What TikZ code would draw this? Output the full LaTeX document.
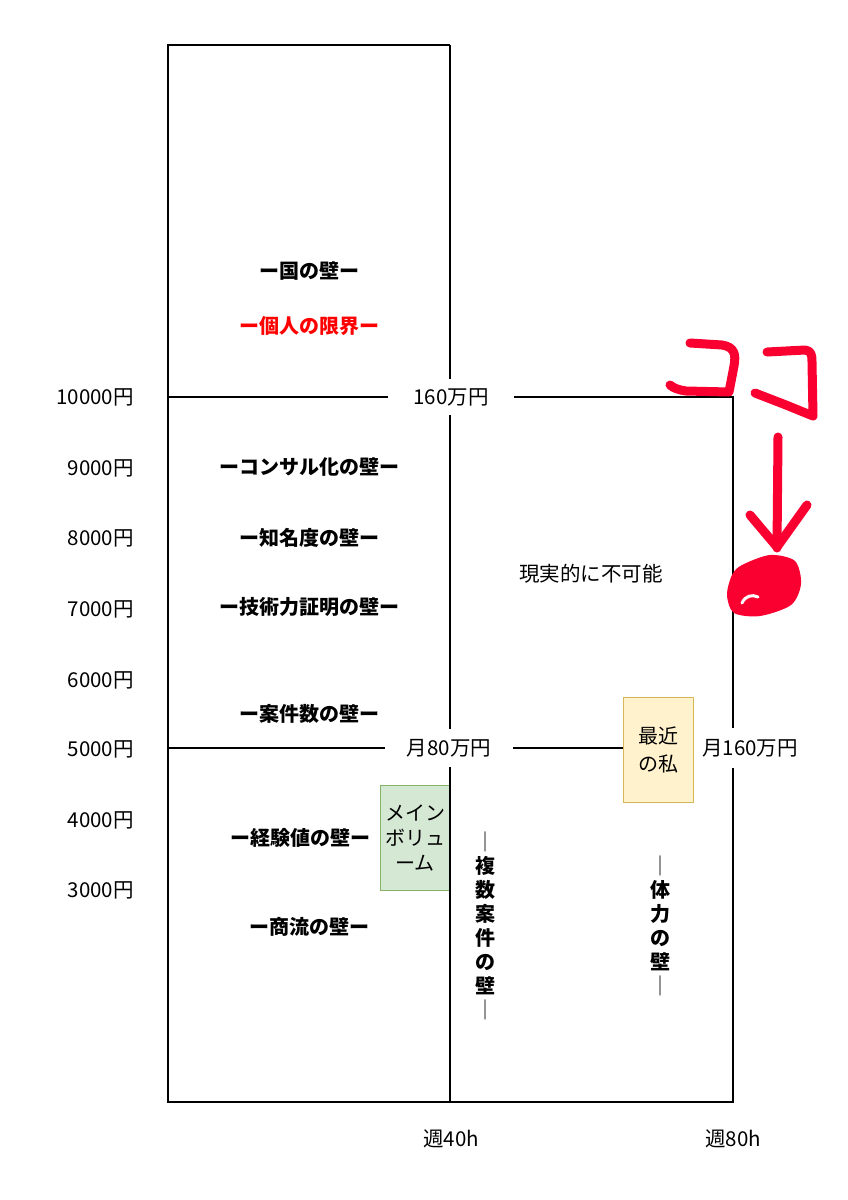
\documentclass[tikz,border=0pt]{standalone}
\usepackage{fontspec}
\setmainfont{Noto Sans CJK JP}
\usepackage{tikz}
\usetikzlibrary{positioning, calc}
\definecolor{mydark}{RGB}{0,0,0}
\definecolor{myred}{RGB}{255,0,0}
\definecolor{inkred}{RGB}{250,0,48}
\definecolor{mygreen}{RGB}{130,179,102}
\definecolor{hdrgreen}{RGB}{213,232,212}
\definecolor{myamber}{RGB}{214,182,86}
\definecolor{hdramber}{RGB}{255,242,204}
\tikzset{
  wall/.style={font=\fontsize{20}{24}\selectfont\bfseries, inner sep=0pt},
  vwall/.style={font=\fontsize{20}{24}\selectfont\bfseries, align=center, inner sep=0pt},
  axis/.style={font=\fontsize{20.5}{24}\selectfont, anchor=east, inner sep=0pt},
  gaplabel/.style={font=\fontsize{20.5}{24}\selectfont, inner sep=0pt},
  greenbox/.style={rectangle, draw=mygreen, fill=hdrgreen, line width=1pt,
    minimum width=70pt, minimum height=105pt, align=center,
    font=\fontsize{20}{25}\selectfont, inner sep=0pt},
  amberbox/.style={rectangle, draw=myamber, fill=hdramber, line width=1pt,
    minimum width=70pt, minimum height=105pt, align=center,
    font=\fontsize{20}{28}\selectfont, inner sep=0pt},
  line/.style={line width=1.2pt, color=mydark},
  ink/.style={line width=9pt, color=inkred, line cap=round, line join=round}
}

\begin{document}
\begin{tikzpicture}[x=1pt, y=-1pt]
  \useasboundingbox (0,0) rectangle (848,1200);
  \coordinate (tl) at (168,45);
  \coordinate (tm) at (450,45);
  \coordinate (bl) at (168,1102);
  \coordinate (bm) at (450,1102);
  \coordinate (br) at (733,1102);
  \coordinate (tr) at (733,397);

  % gap labels on the lines
  \node[gaplabel, minimum width=125pt, minimum height=36pt] (lim160) at (451,397) {160万円};
  \node[gaplabel, minimum width=128pt, minimum height=38pt] (mon80) at (449,748) {月80万円};
  \node[gaplabel, minimum width=100pt, minimum height=40pt] (mon160) at (750,748) {月160万円};
  \node[amberbox] (recent) at (658,749.5) {最近\\の私};
  \node[greenbox] (mainvol) at (415,837.5) {メイン\\ボリュ\\ーム};

  % frame
  \draw[line] (tm) -- (tl) -- (bl) -- (br) -- (br |- mon160.south);
  \draw[line] (tr |- mon160.north) -- (tr) -- (lim160.east);
  \draw[line] (tl |- lim160.west) -- (lim160.west);
  \draw[line] (tm) -- (tm |- lim160.north);
  \draw[line] (tm |- lim160.south) -- (tm |- mon80.north);
  \draw[line] (tm |- mon80.south) -- (bm);
  \draw[line] (tl |- mon80.west) -- (mon80.west);
  \draw[line] (mon80.east) -- (recent.west |- mon80.east);

  % axis
  \foreach \val/\ypos in {10000/397, 9000/468, 8000/538, 7000/609, 6000/680, 5000/749, 4000/820, 3000/890}
    \node[axis] (yen\val) at (134,\ypos) {\val 円};
  \node[gaplabel] (week40) at (451,1139) {週40h};
  \node[gaplabel] (week80) at (733,1139) {週80h};

  % walls
  \node[wall] (country) at (309,271) {ー国の壁ー};
  \node[wall, text=myred] (personal) at (309,326) {ー個人の限界ー};
  \node[wall] (consult) at (309,467) {ーコンサル化の壁ー};
  \node[wall] (fame) at (309,538) {ー知名度の壁ー};
  \node[wall] (skill) at (309,607) {ー技術力証明の壁ー};
  \node[wall] (deals) at (309,714) {ー案件数の壁ー};
  \node[wall] (exp) at (300,838) {ー経験値の壁ー};
  \node[wall] (channel) at (309,927) {ー商流の壁ー};
  \node[vwall] (multi) at (485,926) {{\mdseries ｜}\\複\\数\\案\\件\\の\\壁\\{\mdseries ｜}};
  \node[vwall] (stamina) at (660,926) {{\mdseries ｜}\\体\\力\\の\\壁\\{\mdseries ｜}};
  \node[gaplabel] (impossible) at (591,574) {現実的に不可能};

  % handwriting
  \draw[ink] (690,343) -- (722,345) .. controls (735,347) and (736,355) .. (734,366) -- (729,392) -- (686,391) .. controls (679,390) and (673,388) .. (670,385);
  \draw[ink] (767,352) -- (805,350) .. controls (811,351) and (812,354) .. (812,362) -- (813,416) -- (786,405) -- (755,393);
  \draw[ink] (778,437) -- (777,548);
  \draw[ink] (750,515) -- (777,547) -- (807,505);
  \fill[inkred] plot[smooth cycle] coordinates {(742,565) (770,555) (795,561) (801,584) (791,605) (760,616) (734,613) (727,595) (732,575)};
  \draw[white, line width=3pt, line cap=round] (742,603) .. controls (745,596) and (752,594) .. (758,597);
\end{tikzpicture}
\end{document}
